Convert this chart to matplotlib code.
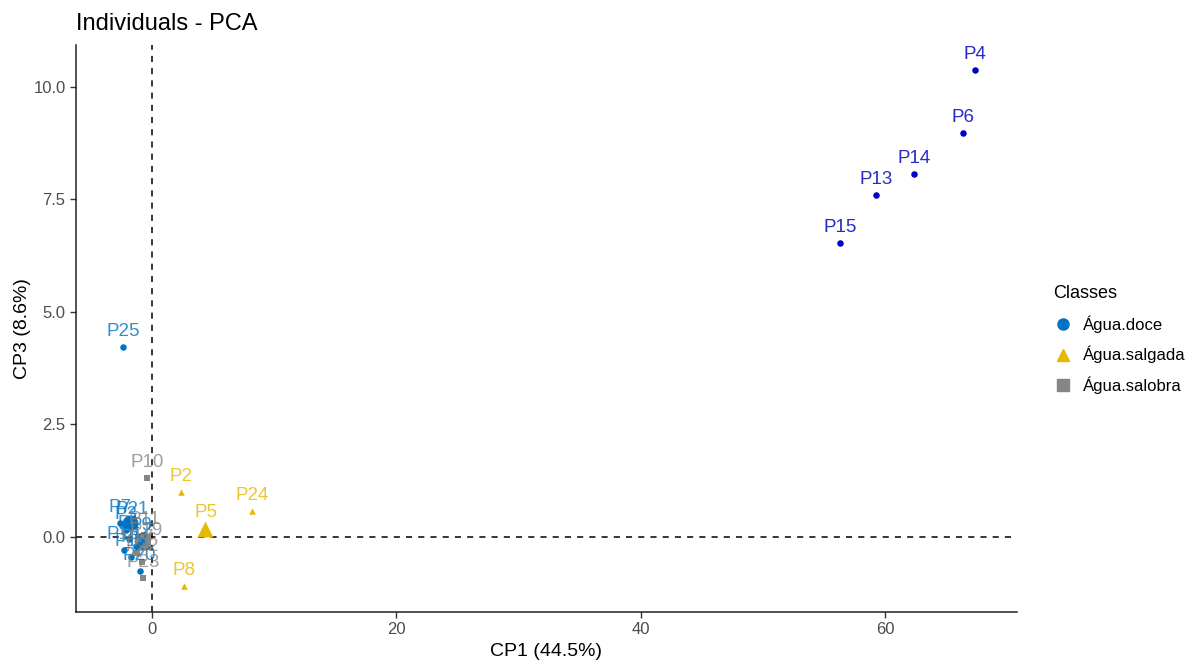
import matplotlib
matplotlib.use("Agg")
import matplotlib.pyplot as plt
from matplotlib.lines import Line2D
import numpy as np

plt.rcParams['font.family'] = ['Liberation Sans', 'DejaVu Sans']

# Individual coordinates on CP1 / CP3, grouped by class
doce_names = ["P7", "P21", "P3", "P1", "P9", "P12", "P16", "P18", "P20", "P25"]
doce_x = [-2.6, -1.6, -2.1, -1.9, -0.9, -1.3, -2.3, -1.7, -1.0, -2.37]
doce_y = [0.30, 0.27, 0.15, -0.05, -0.10, -0.20, -0.30, -0.45, -0.76, 4.22]

salgada_names = ["P2", "P5", "P24", "P8"]
salgada_x = [2.37, 4.4, 8.2, 2.6]
salgada_y = [1.00, 0.20, 0.57, -1.10]

salobra_names = ["P10", "P11", "P17", "P19", "P22", "P23"]
salobra_x = [-0.40, -0.60, -1.20, -0.50, -0.80, -0.74]
salobra_y = [1.31, 0.05, -0.35, -0.20, -0.55, -0.91]

# Supplementary individuals
sup_names = ["P4", "P6", "P14", "P13", "P15"]
sup_x = [67.35, 66.4, 62.4, 59.3, 56.3]
sup_y = [10.38, 8.98, 8.07, 7.60, 6.53]

class_labels = ["Água.doce", "Água.salgada", "Água.salobra"]
class_colors = ["#0073C2", "#E7B800", "#868686"]
class_markers = ["o", "^", "s"]
sup_color = "#0000C8"

fig = plt.figure(figsize=(12.04, 6.66), dpi=100)
ax = fig.add_axes([0.0631, 0.081, 0.7816, 0.8514])

groups = [
    (doce_names, doce_x, doce_y),
    (salgada_names, salgada_x, salgada_y),
    (salobra_names, salobra_x, salobra_y),
]

ax.axhline(0, color="black", linestyle=(0, (4, 4)), linewidth=1.1, zorder=1)
ax.axvline(0, color="black", linestyle=(0, (4, 4)), linewidth=1.1, zorder=1)

label_size = 13.5
label_offset = (0, 5)

for (names, xs, ys), col, mk in zip(groups, class_colors, class_markers):
    ax.scatter(xs, ys, s=22, color=col, marker=mk, zorder=3, linewidths=0)
    for n, x, y in zip(names, xs, ys):
        ax.annotate(n, (x, y), xytext=label_offset, textcoords="offset points",
                    ha="center", va="bottom", fontsize=label_size, color=col,
                    alpha=0.8, zorder=4)
    # class centroid
    ax.scatter([np.mean(xs)], [np.mean(ys)], s=130, color=col, marker=mk,
               zorder=2.5, linewidths=0)

ax.scatter(sup_x, sup_y, s=22, color=sup_color, zorder=3, linewidths=0)
for n, x, y in zip(sup_names, sup_x, sup_y):
    ax.annotate(n, (x, y), xytext=label_offset, textcoords="offset points",
                ha="center", va="bottom", fontsize=label_size, color="#2A2AC8",
                zorder=4)

ax.set_xlim(-6.2, 70.8)
ax.set_ylim(-1.67, 10.93)
ax.set_xticks([0, 20, 40, 60])
ax.set_yticks([0.0, 2.5, 5.0, 7.5, 10.0])
ax.set_yticklabels(["0.0", "2.5", "5.0", "7.5", "10.0"])
ax.tick_params(axis="both", direction="out", length=4, width=1, color="#333333",
               labelsize=12, labelcolor="#4D4D4D")
for s in ["top", "right"]:
    ax.spines[s].set_visible(False)
for s in ["left", "bottom"]:
    ax.spines[s].set_linewidth(1.1)
    ax.spines[s].set_color("#222222")

ax.set_xlabel("CP1 (44.5%)", fontsize=14, labelpad=4)
ax.set_ylabel("CP3 (8.6%)", fontsize=14, labelpad=2)
ax.set_title("Individuals - PCA", fontsize=17, loc="left", x=0.0, pad=11)

handles = [Line2D([0], [0], marker=m, color=c, linestyle="none", markersize=8)
           for m, c in zip(class_markers, class_colors)]
leg = fig.legend(handles, class_labels, title="Classes", loc="upper left",
                 bbox_to_anchor=(0.862, 0.595), frameon=False, fontsize=12,
                 title_fontsize=13, handletextpad=0.6, labelspacing=0.8,
                 handlelength=1.2)
leg._legend_box.align = "left"

fig.savefig("out.png", dpi=100, facecolor="white")
